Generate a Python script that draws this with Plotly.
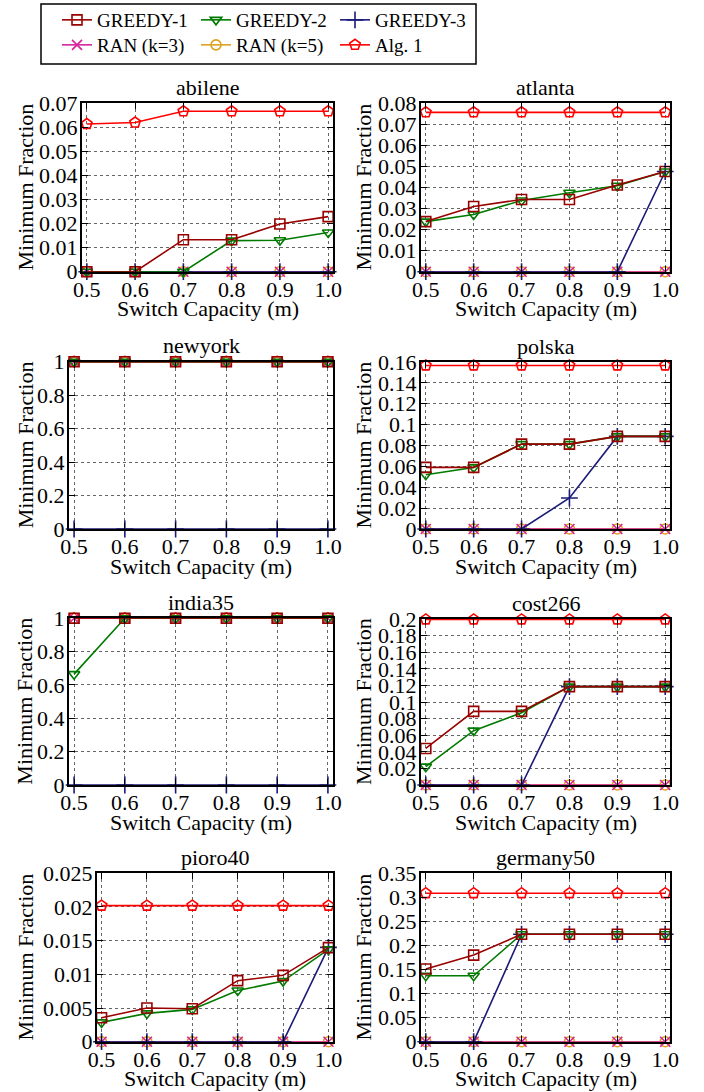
import plotly.graph_objects as go

W, H = 704, 1092

# ---------------- data ----------------
capacity = [0.5, 0.6, 0.7, 0.8, 0.9, 1.0]
capacity_labels = ["0.5", "0.6", "0.7", "0.8", "0.9", "1.0"]

series_names = ["GREEDY-1", "GREEDY-2", "GREEDY-3", "RAN (k=3)", "RAN (k=5)", "Alg. 1"]
topologies = ["abilene", "atlanta", "newyork", "polska", "india35", "cost266", "pioro40", "germany50"]

abilene_greedy1 = [0, 0, 0.0133, 0.0133, 0.0198, 0.0229]
abilene_greedy2 = [0, 0, 0, 0.0129, 0.0131, 0.0163]
abilene_greedy3 = [0, 0, 0, 0, 0, 0]
abilene_ran3 = [0, 0, 0, 0, 0, 0]
abilene_ran5 = [0, 0, 0, 0, 0, 0]
abilene_alg1 = [0.0614, 0.0620, 0.0667, 0.0667, 0.0667, 0.0667]

atlanta_greedy1 = [0.0238, 0.0310, 0.0343, 0.0343, 0.0412, 0.0476]
atlanta_greedy2 = [0.0238, 0.0272, 0.0338, 0.0375, 0.0408, 0.0476]
atlanta_greedy3 = [0, 0, 0, 0, 0, 0.0476]
atlanta_ran3 = [0, 0, 0, 0, 0, 0]
atlanta_ran5 = [0, 0, 0, 0, 0, 0]
atlanta_alg1 = [0.0757, 0.0757, 0.0757, 0.0757, 0.0757, 0.0757]

newyork_greedy1 = [1, 1, 1, 1, 1, 1]
newyork_greedy2 = [1, 1, 1, 1, 1, 1]
newyork_greedy3 = [0, 0, 0, 0, 0, 0]
newyork_ran3 = [1, 1, 1, 1, 1, 1]
newyork_ran5 = [1, 1, 1, 1, 1, 1]
newyork_alg1 = [1, 1, 1, 1, 1, 1]

polska_greedy1 = [0.0590, 0.0590, 0.0813, 0.0813, 0.0887, 0.0887]
polska_greedy2 = [0.0520, 0.0590, 0.0813, 0.0813, 0.0887, 0.0887]
polska_greedy3 = [0, 0, 0, 0.0297, 0.0887, 0.0887]
polska_ran3 = [0, 0, 0, 0, 0, 0]
polska_ran5 = [0, 0, 0, 0, 0, 0]
polska_alg1 = [0.1567, 0.1567, 0.1567, 0.1567, 0.1567, 0.1567]

india35_greedy1 = [1, 1, 1, 1, 1, 1]
india35_greedy2 = [0.665, 1, 1, 1, 1, 1]
india35_greedy3 = [0, 0, 0, 0, 0, 0]
india35_ran3 = [1, 1, 1, 1, 1, 1]
india35_ran5 = [1, 1, 1, 1, 1, 1]
india35_alg1 = [1, 1, 1, 1, 1, 1]

cost266_greedy1 = [0.0440, 0.0887, 0.0887, 0.1185, 0.1185, 0.1185]
cost266_greedy2 = [0.0221, 0.0655, 0.0871, 0.1185, 0.1185, 0.1185]
cost266_greedy3 = [0, 0, 0, 0.1185, 0.1185, 0.1185]
cost266_ran3 = [0, 0, 0, 0, 0, 0]
cost266_ran5 = [0, 0, 0, 0, 0, 0]
cost266_alg1 = [0.1995, 0.1995, 0.1995, 0.1995, 0.1995, 0.1995]

pioro40_greedy1 = [0.00356, 0.00500, 0.00490, 0.00906, 0.00985, 0.01396]
pioro40_greedy2 = [0.00287, 0.00420, 0.00480, 0.00760, 0.00900, 0.01370]
pioro40_greedy3 = [0, 0, 0, 0, 0, 0.0140]
pioro40_ran3 = [0, 0, 0, 0, 0, 0]
pioro40_ran5 = [0, 0, 0, 0, 0, 0]
pioro40_alg1 = [0.0202, 0.0202, 0.0202, 0.0202, 0.0202, 0.0202]

germany50_greedy1 = [0.151, 0.180, 0.2233, 0.2233, 0.2233, 0.2233]
germany50_greedy2 = [0.137, 0.137, 0.2233, 0.2233, 0.2233, 0.2233]
germany50_greedy3 = [0, 0, 0.2233, 0.2233, 0.2233, 0.2233]
germany50_ran3 = [0, 0, 0, 0, 0, 0]
germany50_ran5 = [0, 0, 0, 0, 0, 0]
germany50_alg1 = [0.3086, 0.3086, 0.3086, 0.3086, 0.3086, 0.3086]

abilene_yticks = [0, 0.01, 0.02, 0.03, 0.04, 0.05, 0.06, 0.07]
abilene_ylabels = ["0", "0.01", "0.02", "0.03", "0.04", "0.05", "0.06", "0.07"]
atlanta_yticks = [0, 0.01, 0.02, 0.03, 0.04, 0.05, 0.06, 0.07, 0.08]
atlanta_ylabels = ["0", "0.01", "0.02", "0.03", "0.04", "0.05", "0.06", "0.07", "0.08"]
newyork_yticks = [0, 0.2, 0.4, 0.6, 0.8, 1]
newyork_ylabels = ["0", "0.2", "0.4", "0.6", "0.8", "1"]
polska_yticks = [0, 0.02, 0.04, 0.06, 0.08, 0.1, 0.12, 0.14, 0.16]
polska_ylabels = ["0", "0.02", "0.04", "0.06", "0.08", "0.1", "0.12", "0.14", "0.16"]
india35_yticks = [0, 0.2, 0.4, 0.6, 0.8, 1]
india35_ylabels = ["0", "0.2", "0.4", "0.6", "0.8", "1"]
cost266_yticks = [0, 0.02, 0.04, 0.06, 0.08, 0.1, 0.12, 0.14, 0.16, 0.18, 0.2]
cost266_ylabels = ["0", "0.02", "0.04", "0.06", "0.08", "0.1", "0.12", "0.14", "0.16", "0.18", "0.2"]
pioro40_yticks = [0, 0.005, 0.01, 0.015, 0.02, 0.025]
pioro40_ylabels = ["0", "0.005", "0.01", "0.015", "0.02", "0.025"]
germany50_yticks = [0, 0.05, 0.1, 0.15, 0.2, 0.25, 0.3, 0.35]
germany50_ylabels = ["0", "0.05", "0.1", "0.15", "0.2", "0.25", "0.3", "0.35"]

# ---------------- assemble ----------------
g = globals()
data = {t: [g[f"{t}_{s}"] for s in ["greedy1", "greedy2", "greedy3", "ran3", "ran5", "alg1"]] for t in topologies}
yticks = {t: (g[f"{t}_yticks"], g[f"{t}_ylabels"]) for t in topologies}

# styles
colors = ["#990000", "#007a00", "#1c1c78", "#d4249c", "#dea21f", "#ff0000"]
symbols = ["square-open", "triangle-down-open", "cross-thin-open", "x-thin-open", "circle-open", "pentagon-open"]
msizes = [10, 10, 12, 10, 10, 11]
legend_ids = ["legend", "legend", "legend", "legend2", "legend2", "legend2"]

# panel frames in pixels (x0, x1, ytop, ybottom)
frames = {
    "abilene": (82, 333, 103.3, 271.7),
    "atlanta": (421, 670, 103.3, 271.7),
    "newyork": (69, 333, 361.7, 529),
    "polska": (421, 670, 362, 529),
    "india35": (69, 333, 618.3, 785),
    "cost266": (421, 670, 619, 785),
    "pioro40": (97, 333, 873.3, 1041.7),
    "germany50": (421, 670, 873.3, 1041.7),
}

FONT = "Liberation Serif, Times New Roman, serif"
fig = go.Figure()
annotations = []
layout_axes = {}

for i, t in enumerate(topologies):
    k = i + 1
    xa = "x" if k == 1 else f"x{k}"
    ya = "y" if k == 1 else f"y{k}"
    x0, x1, yt, yb = frames[t]
    tv, tt = yticks[t]
    # draw in reverse so GREEDY-1 ends on top; legend order kept via legendrank
    for j in reversed(range(len(series_names))):
        name = series_names[j]
        fig.add_trace(go.Scatter(
            x=capacity, y=data[t][j], name=name, mode="lines+markers",
            xaxis=xa, yaxis=ya, cliponaxis=False,
            line=dict(color=colors[j], width=1.6),
            marker=dict(symbol=symbols[j], size=msizes[j], color=colors[j],
                        line=dict(color=colors[j], width=1.6)),
            showlegend=(k == 1), legend=legend_ids[j], legendrank=100 + j,
        ))
    axcommon = dict(
        showline=True, linecolor="black", linewidth=2, mirror="ticks",
        ticks="inside", ticklen=6, tickwidth=1, tickcolor="black",
        showgrid=True, gridcolor="#666666", griddash="dot", gridwidth=1,
        zeroline=False, tickfont=dict(family=FONT, size=22, color="black"),
    )
    layout_axes["xaxis" if k == 1 else f"xaxis{k}"] = dict(
        axcommon, domain=[x0 / W, x1 / W], anchor=ya,
        range=[0.49, 1.01], tickvals=capacity, ticktext=capacity_labels,
        ticklabelstandoff=-3,
    )
    layout_axes["yaxis" if k == 1 else f"yaxis{k}"] = dict(
        axcommon, domain=[1 - yb / H, 1 - yt / H], anchor=xa,
        range=[0, tv[-1]], tickvals=tv, ticktext=tt, ticklabelstandoff=-2,
    )
    cx = (x0 + x1) / 2
    cy = (yt + yb) / 2
    annotations.append(dict(text=t, x=cx / W, y=1 - (yt - 16) / H, xref="paper", yref="paper",
                            xanchor="center", yanchor="middle", showarrow=False,
                            font=dict(family=FONT, size=22, color="black")))
    annotations.append(dict(text="Switch Capacity (m)", x=cx / W, y=1 - (yb + 37) / H,
                            xref="paper", yref="paper", xanchor="center", yanchor="middle",
                            showarrow=False, font=dict(family=FONT, size=22, color="black")))
    ylx = 25 if x0 < 300 else 363
    annotations.append(dict(text="Minimum Fraction", x=ylx / W, y=1 - cy / H, textangle=-90,
                            xref="paper", yref="paper", xanchor="center", yanchor="middle",
                            showarrow=False, font=dict(family=FONT, size=22, color="black")))

legend_common = dict(orientation="h", xanchor="left", yanchor="middle",
                     bgcolor="rgba(0,0,0,0)", borderwidth=0,
                     entrywidth=94, entrywidthmode="pixels", itemwidth=30,
                     font=dict(family=FONT, size=19, color="black"),
                     tracegroupgap=0, itemclick=False, traceorder="normal")

fig.update_layout(
    width=W, height=H, margin=dict(l=0, r=0, t=0, b=0, autoexpand=False),
    paper_bgcolor="white", plot_bgcolor="white",
    legend=dict(legend_common, x=57 / W, y=1 - 20 / H),
    legend2=dict(legend_common, x=57 / W, y=1 - 45 / H),
    annotations=annotations,
    shapes=[dict(type="rect", xref="paper", yref="paper",
                 x0=41 / W, x1=476 / W, y0=1 - 64 / H, y1=1 - 4 / H,
                 line=dict(color="black", width=1.5), fillcolor="rgba(0,0,0,0)")],
    **layout_axes,
)

fig.write_html("out.html")
